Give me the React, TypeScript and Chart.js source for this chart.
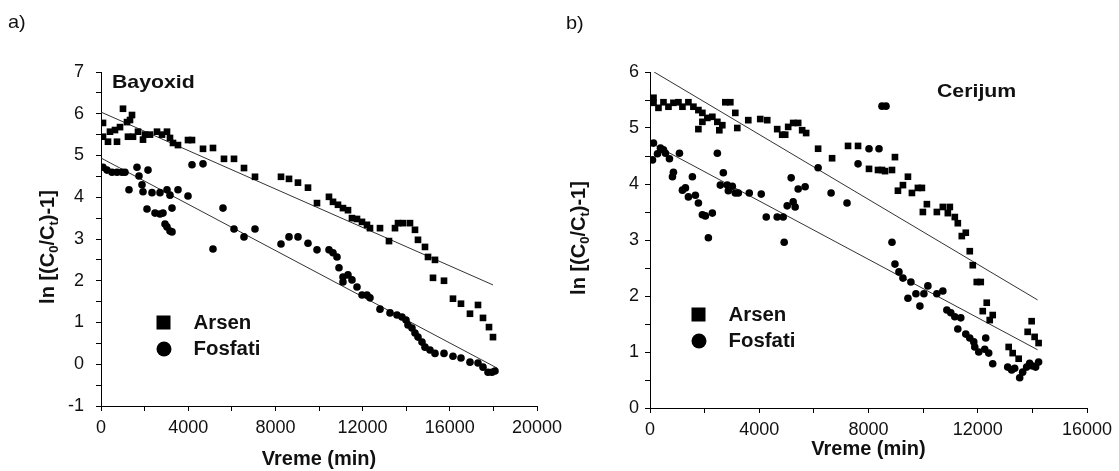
import React, { useEffect, useRef } from 'react';
import { Chart, registerables } from 'chart.js';

Chart.register(...registerables);

// ---------- DATA ----------
// Panel a) Bayoxid
const arsenA: [number, number][] = [
  [92, 5.78], [92, 5.45], [321, 5.33], [734, 5.33], [413, 5.57], [642, 5.61], [872, 5.68], [1009, 6.12],
  [1193, 5.80], [1422, 5.97], [1330, 5.85], [1238, 5.45], [1468, 5.45], [1697, 5.57], [1927, 5.38],
  [2018, 5.50], [2248, 5.50], [2569, 5.57], [2798, 5.50], [3027, 5.57], [3165, 5.42], [3303, 5.30],
  [3532, 5.25], [3991, 5.37], [4174, 5.37], [4679, 5.16], [5137, 5.18], [5642, 4.92], [6101, 4.92],
  [6560, 4.70], [7064, 4.49], [8257, 4.49], [8624, 4.44], [9036, 4.35], [9495, 4.23], [9908, 3.86],
  [10458, 4.01], [10642, 3.89], [10871, 3.82], [11100, 3.74], [11330, 3.69], [11513, 3.50], [11743, 3.48],
  [11972, 3.41], [12201, 3.34], [12339, 3.26], [12798, 3.26], [13211, 2.95], [13486, 3.26], [13624, 3.38],
  [13853, 3.38], [14174, 3.38], [14403, 3.22], [14541, 2.98], [14862, 2.81], [15000, 2.57], [15321, 2.50],
  [15229, 2.07], [15734, 2.00], [16146, 1.57], [16513, 1.45], [16926, 1.21], [17293, 1.42], [17523, 1.11],
  [17798, 0.89], [17981, 0.65],
];
const fosfatiA: [number, number][] = [
  [92, 4.72], [275, 4.65], [505, 4.60], [734, 4.60], [963, 4.60], [1101, 4.60], [1651, 4.72], [1743, 4.51],
  [2156, 4.65], [1284, 4.18], [1881, 4.30], [1927, 4.13], [2339, 4.11], [2706, 4.11], [3027, 4.18],
  [3165, 4.05], [3532, 4.18], [3991, 4.03], [2110, 3.72], [2477, 3.62], [2706, 3.60], [2844, 3.62],
  [3257, 3.74], [2936, 3.36], [3027, 3.29], [3165, 3.19], [3257, 3.17], [4174, 4.78], [4679, 4.80],
  [5137, 2.76], [5596, 3.74], [6101, 3.24], [6560, 3.05], [7064, 3.24], [8257, 2.88], [8624, 3.05],
  [9036, 3.05], [9495, 2.90], [9908, 2.74], [10458, 2.74], [10642, 2.67], [10826, 2.57], [10917, 2.31],
  [11100, 2.09], [11100, 1.97], [11330, 2.14], [11513, 2.02], [11743, 1.85], [11972, 1.66], [12201, 1.66],
  [12339, 1.59], [12798, 1.32], [13257, 1.23], [13578, 1.18], [13807, 1.13], [13991, 1.06], [14082, 0.94],
  [14266, 0.87], [14403, 0.75], [14541, 0.65], [14725, 0.53], [14862, 0.41], [15092, 0.34], [15321, 0.26],
  [15734, 0.26], [16146, 0.19], [16513, 0.15], [16926, 0.05], [17293, 0.03], [17523, -0.07], [17752, -0.19],
  [17935, -0.19], [18073, -0.16],
];
const fitArsenA: [number, number][] = [[0, 6.04], [17981, 1.90]];
const fitFosfatiA: [number, number][] = [[0, 4.94], [18165, -0.09]];

// Panel b) Cerijum
const arsenB: [number, number][] = [
  [128, 5.54], [128, 5.45], [310, 5.36], [493, 5.46], [676, 5.38], [858, 5.45], [1041, 5.46], [1187, 5.38],
  [1406, 5.46], [1589, 5.38], [1772, 5.32], [1918, 5.27], [1918, 5.11], [2100, 5.18], [2283, 5.20],
  [2466, 5.11], [2648, 5.05], [2539, 4.96], [1772, 4.98], [2758, 5.46], [2941, 5.46], [3123, 5.27],
  [3196, 5.00], [3598, 5.14], [4036, 5.16], [4292, 5.14], [4657, 4.98], [4840, 4.88], [4950, 4.88],
  [5059, 5.02], [5242, 5.09], [5425, 5.09], [5571, 4.96], [5717, 4.91], [6155, 4.63], [6667, 4.46],
  [7251, 4.68], [7617, 4.68], [8019, 4.27], [8348, 4.25], [8494, 4.25], [8604, 4.23], [8860, 4.25],
  [8969, 4.48], [9444, 4.13], [9261, 3.98], [9078, 3.88], [9590, 3.84], [9809, 3.93], [9955, 3.93],
  [10138, 3.64], [9991, 3.50], [10503, 3.50], [10722, 3.59], [10978, 3.59], [10905, 3.48], [11160, 3.41],
  [11270, 3.30], [11562, 3.13], [11416, 3.07], [11708, 2.80], [11818, 2.55], [11964, 2.25], [12110, 2.25],
  [12183, 1.73], [12329, 1.88], [12439, 1.57], [12548, 1.66], [13133, 1.09], [13279, 0.98], [13498, 0.88],
  [13973, 1.55], [13827, 1.36], [14082, 1.27], [14228, 1.16],
];
const fosfatiB: [number, number][] = [
  [128, 4.73], [91, 4.43], [274, 4.54], [384, 4.64], [493, 4.61], [566, 4.55], [712, 4.45], [858, 4.21],
  [822, 4.13], [1078, 4.55], [1187, 3.89], [1297, 3.93], [1406, 3.77], [1552, 4.13], [1662, 3.80],
  [1772, 3.66], [1918, 3.45], [2027, 3.43], [2283, 3.48], [2137, 3.04], [2466, 4.55], [2685, 4.20],
  [2575, 3.98], [2831, 3.98], [3014, 3.96], [2868, 3.88], [3123, 3.84], [3233, 3.84], [3635, 3.84],
  [4073, 3.82], [4256, 3.41], [4657, 3.41], [4877, 3.41], [4913, 2.96], [5023, 3.61], [5169, 4.11],
  [5242, 3.68], [5315, 3.59], [5425, 3.91], [5680, 3.95], [6155, 4.29], [6630, 3.84], [7214, 3.66],
  [7617, 4.36], [8019, 4.63], [8385, 4.63], [8640, 5.39], [8494, 5.39], [8860, 2.96], [8969, 2.57],
  [9115, 2.43], [9261, 2.32], [9553, 2.25], [9444, 1.96], [9736, 2.04], [9882, 1.82], [10028, 2.04],
  [10174, 2.18], [10503, 2.04], [10722, 2.09], [10868, 1.75], [11014, 1.70], [11160, 1.63], [11379, 1.61],
  [11270, 1.41], [11562, 1.32], [11708, 1.25], [11855, 1.18], [11891, 1.09], [12037, 1.00], [12256, 1.05],
  [12402, 0.98], [12292, 1.25], [12548, 0.79], [13096, 0.73], [13242, 0.68], [13352, 0.71], [13535, 0.54],
  [13644, 0.64], [13790, 0.73], [13900, 0.80], [14010, 0.75], [14119, 0.73], [14228, 0.82],
];
const fitArsenB: [number, number][] = [[150, 6.0], [14191, 1.93]];
const fitFosfatiB: [number, number][] = [[0, 4.74], [14191, 1.04]];

const seriesNames = ['Arsen', 'Fosfati'];
const xTitle = 'Vreme (min)';

// ---------- STYLE ----------
const FONT = '"Liberation Sans", Arial, sans-serif';
const INK = '#111';

type PanelCfg = {
  left: number; width: number;
  areaLeft: number; areaRight: number; areaTop: number; areaBottom: number;
  xMax: number; yMin: number; yMax: number;
  yTickPad: number; xTitlePad: number;
  panelLabel: string; panelLabelPos: [number, number];
  name: string; namePos: [number, number];
  legendPos: [number, number]; // center of square marker
  yTitlePos: [number, number];
  arsen: [number, number][]; fosfati: [number, number][];
  fitA: [number, number][]; fitF: [number, number][];
};

function drawText(ctx: CanvasRenderingContext2D, text: string, x: number, y: number, font: string, sx = 1.1) {
  ctx.save();
  ctx.font = font;
  ctx.fillStyle = INK;
  ctx.textAlign = 'left';
  ctx.textBaseline = 'middle';
  ctx.translate(x, y);
  ctx.scale(sx, 1);
  ctx.fillText(text, 0, 0);
  ctx.restore();
}

function drawYTitle(ctx: CanvasRenderingContext2D, cx: number, cy: number) {
  const big = `bold 20px ${FONT}`;
  const small = `bold 13px ${FONT}`;
  const parts = [
    { t: 'ln [(C', f: big, dy: 0 },
    { t: '0', f: small, dy: 4 },
    { t: '/C', f: big, dy: 0 },
    { t: 't', f: small, dy: 4 },
    { t: ')-1]', f: big, dy: 0 },
  ];
  ctx.save();
  ctx.fillStyle = INK;
  ctx.translate(cx, cy);
  ctx.rotate(-Math.PI / 2);
  ctx.textAlign = 'left';
  ctx.textBaseline = 'alphabetic';
  let total = 0;
  const widths = parts.map((p) => { ctx.font = p.f; const w = ctx.measureText(p.t).width; total += w; return w; });
  let x = -total / 2;
  parts.forEach((p, i) => {
    ctx.font = p.f;
    ctx.fillText(p.t, x, 7 + p.dy);
    x += widths[i];
  });
  ctx.restore();
}

function makeChart(canvas: HTMLCanvasElement, c: PanelCfg) {
  const toPts = (a: [number, number][]) => a.map(([x, y]) => ({ x, y }));
  const overlay = {
    id: 'overlay',
    afterDraw(chart: any) {
      const ctx: CanvasRenderingContext2D = chart.ctx;
      const o = c.left;
      drawText(ctx, c.panelLabel, c.panelLabelPos[0] - o, c.panelLabelPos[1], `19px ${FONT}`, 1.05);
      drawText(ctx, c.name, c.namePos[0] - o, c.namePos[1], `bold 19px ${FONT}`, 1.12);
      const [lx, ly] = c.legendPos;
      ctx.save();
      ctx.fillStyle = '#000';
      ctx.fillRect(lx - o - 7, ly - 7, 14, 14);
      ctx.beginPath();
      ctx.arc(lx - o + 0.5, ly + 26.5, 7.5, 0, Math.PI * 2);
      ctx.fill();
      ctx.restore();
      drawText(ctx, seriesNames[0], lx - o + 30, ly + 1, `bold 20px ${FONT}`, 1.02);
      drawText(ctx, seriesNames[1], lx - o + 30, ly + 27, `bold 20px ${FONT}`, 1.02);
      drawYTitle(ctx, c.yTitlePos[0] - o, c.yTitlePos[1]);
    },
  };
  return new Chart(canvas, {
    type: 'scatter',
    data: {
      datasets: [
        { label: 'Arsen', data: toPts(c.arsen), pointStyle: 'rect', pointRadius: 4.7, pointBorderWidth: 0, backgroundColor: '#000', borderColor: '#000' },
        { label: 'Fosfati', data: toPts(c.fosfati), pointStyle: 'circle', pointRadius: 3.8, pointBorderWidth: 0, backgroundColor: '#000', borderColor: '#000' },
        { label: 'fitA', data: toPts(c.fitA), showLine: true, pointRadius: 0, borderColor: '#333', borderWidth: 1 },
        { label: 'fitF', data: toPts(c.fitF), showLine: true, pointRadius: 0, borderColor: '#333', borderWidth: 1 },
      ],
    } as any,
    options: {
      responsive: false,
      animation: false,
      events: [],
      layout: { padding: { top: c.areaTop, right: c.width - (c.areaRight - c.left), left: 0, bottom: 0 } },
      plugins: { legend: { display: false }, tooltip: { enabled: false } },
      scales: {
        x: {
          type: 'linear', min: 0, max: c.xMax,
          afterFit: (s: any) => { s.height = 471 - c.areaBottom; },
          ticks: {
            stepSize: 2000, autoSkip: false, maxRotation: 0, padding: 6,
            callback: (v: any) => (Number(v) % 4000 === 0 ? String(v) : ''),
            font: { family: FONT, size: 18 }, color: INK,
          },
          grid: { display: true, drawOnChartArea: false, drawTicks: true, tickLength: 5, color: '#000' },
          border: { display: true, color: '#000', width: 1 },
          title: { display: true, text: xTitle, font: { family: FONT, size: 20, weight: 'bold' }, color: INK, padding: { top: 0, bottom: c.xTitlePad } },
        },
        y: {
          type: 'linear', min: c.yMin, max: c.yMax,
          afterFit: (s: any) => { s.width = c.areaLeft - c.left; },
          ticks: {
            stepSize: 0.5, autoSkip: false, padding: c.yTickPad,
            callback: (v: any) => (Number.isInteger(Number(v)) ? String(v) : ''),
            font: { family: FONT, size: 18 }, color: INK,
          },
          grid: { display: true, drawOnChartArea: false, drawTicks: true, tickLength: 5, color: '#000' },
          border: { display: true, color: '#000', width: 1 },
        },
      },
    } as any,
    plugins: [overlay],
  });
}

const panelA: PanelCfg = {
  left: 0, width: 575,
  areaLeft: 101, areaRight: 537, areaTop: 72, areaBottom: 406,
  xMax: 20000, yMin: -1, yMax: 7, yTickPad: 12, xTitlePad: 0,
  panelLabel: 'a)', panelLabelPos: [8, 23],
  name: 'Bayoxid', namePos: [112, 83],
  legendPos: [163.5, 322.5],
  yTitlePos: [47, 247],
  arsen: arsenA, fosfati: fosfatiA, fitA: fitArsenA, fitF: fitFosfatiA,
};
const panelB: PanelCfg = {
  left: 540, width: 579,
  areaLeft: 650, areaRight: 1087, areaTop: 72, areaBottom: 408,
  xMax: 16000, yMin: 0, yMax: 6, yTickPad: 6, xTitlePad: 10,
  panelLabel: 'b)', panelLabelPos: [566, 24],
  name: 'Cerijum', namePos: [937, 92],
  legendPos: [698.5, 314.5],
  yTitlePos: [578, 238],
  arsen: arsenB, fosfati: fosfatiB, fitA: fitArsenB, fitF: fitFosfatiB,
};

function Panel({ cfg }: { cfg: PanelCfg }) {
  const ref = useRef<HTMLCanvasElement>(null);
  useEffect(() => {
    if (!ref.current) return;
    const ch = makeChart(ref.current, cfg);
    return () => ch.destroy();
  }, [cfg]);
  return (
    <canvas
      ref={ref}
      width={cfg.width}
      height={471}
      style={{ position: 'absolute', left: cfg.left, top: 0, width: cfg.width, height: 471 }}
    />
  );
}

export default function App() {
  return (
    <div style={{ position: 'fixed', left: 0, top: 0, width: 1119, height: 471, background: '#fff', overflow: 'hidden' }}>
      <Panel cfg={panelA} />
      <Panel cfg={panelB} />
    </div>
  );
}
